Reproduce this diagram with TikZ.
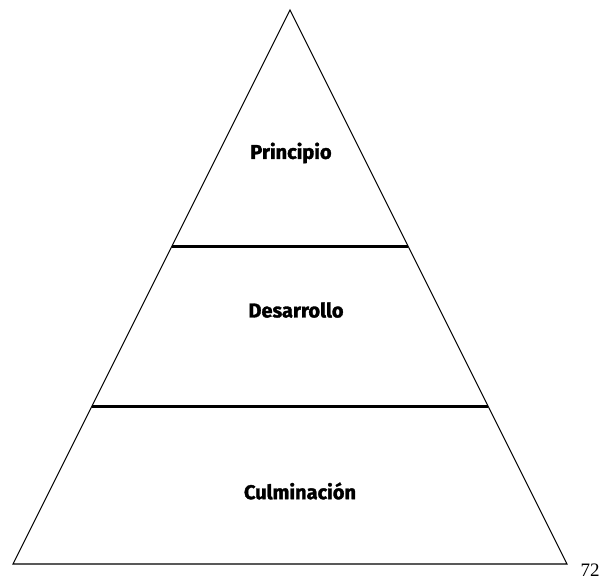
\documentclass[tikz,border=0pt]{standalone}
\usepackage{fontspec}
\setmainfont{Liberation Serif}
\newfontfamily\etiqueta[BoldFeatures={FakeBold=1.6}]{Fira Sans}
\usetikzlibrary{calc,positioning}

\tikzset{
  nivel/.style={font=\etiqueta\bfseries\fontsize{20}{22}\selectfont},
  divisor/.style={line width=3pt}
}

\begin{document}
\begin{tikzpicture}[x=1pt,y=-1pt]
  \useasboundingbox (0,0) rectangle (605,583);

  % triangle
  \coordinate (apex) at (290,10);
  \coordinate (bl) at (13,564);
  \coordinate (br) at (567,564);
  \draw[line width=1.1pt, line join=miter] (apex) -- (bl) -- (br) -- cycle;

  % separators
  \coordinate (s1l) at ($(apex)!0.426!(bl)$);
  \coordinate (s1r) at ($(apex)!0.426!(br)$);
  \coordinate (s2l) at ($(apex)!0.715!(bl)$);
  \coordinate (s2r) at ($(apex)!0.715!(br)$);
  \draw[divisor] (s1l) -- (s1r);
  \draw[divisor] (s2l) -- (s2r);

  % levels
  \node[nivel] (principio) at (291,153) {Principio};
  \node[nivel] (desarrollo) at (296,310) {Desarrollo};
  \node[nivel] (culminacion) at (300,491) {Culminación};

  % page number
  \node[font=\fontsize{19}{21}\selectfont] (pagina) at (590,570) {72};
\end{tikzpicture}
\end{document}
